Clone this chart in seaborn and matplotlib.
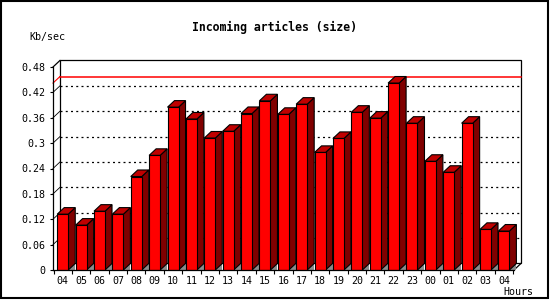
import matplotlib
matplotlib.use("Agg")
import matplotlib.pyplot as plt
from matplotlib.patches import Polygon, Rectangle
import seaborn as sns
import pandas as pd

# ---- data ----
hours = ["04", "05", "06", "07", "08", "09", "10", "11", "12", "13", "14", "15",
         "16", "17", "18", "19", "20", "21", "22", "23", "00", "01", "02", "03", "04"]
kb_per_sec = [0.132, 0.106, 0.139, 0.132, 0.221, 0.271, 0.385, 0.357, 0.312, 0.328,
              0.370, 0.400, 0.368, 0.392, 0.278, 0.311, 0.373, 0.359, 0.442, 0.347,
              0.257, 0.231, 0.347, 0.096, 0.092]
y_ticks = [0, 0.06, 0.12, 0.18, 0.24, 0.30, 0.36, 0.42, 0.48]
y_tick_labels = ["0", "0.06", "0.12", "0.18", "0.24", "0.3", "0.36", "0.42", "0.48"]
title = "Incoming articles (size)"
y_unit = "Kb/sec"
x_unit = "Hours"

df = pd.DataFrame({"slot": list(range(len(hours))), "value": kb_per_sec})

W, H = 550, 300
fig = plt.figure(figsize=(W / 100, H / 100), dpi=100)
fig.patch.set_facecolor("white")

# front plane of the 3D plot: x 53..514 px, y 67..270 px (from top)
ax = fig.add_axes([53 / W, (H - 270) / H, (514 - 53) / W, (270 - 67) / H])
ax.set_facecolor("none")

xlim = (-0.53, 24.55)
ylim = (0, 0.48)
dx = 0.38      # depth offset (category units)
dy = 0.0155    # depth offset (value units)

mono = "DejaVu Sans Mono"

# front faces via seaborn
sns.barplot(data=df, x="slot", y="value", color="#ff0000", saturation=1, width=0.6,
            edgecolor="black", linewidth=0.8, ax=ax, zorder=3)
bars = list(ax.patches)

# back plane
ax.add_patch(Rectangle((xlim[0] + dx, dy), xlim[1] - xlim[0], ylim[1] - ylim[0],
                       facecolor="white", edgecolor="black", lw=0.9, zorder=0.5,
                       clip_on=False))
# grid on back plane
for v in y_ticks[1:-1]:
    ax.plot([xlim[0] + dx, xlim[1] + dx], [v + dy, v + dy], color="black", lw=0.9,
            linestyle=(0, (1.6, 2.6)), zorder=0.6, clip_on=False)
    ax.plot([xlim[0], xlim[0] + dx], [v, v + dy], color="black", lw=0.6,
            zorder=0.6, clip_on=False)
# peak line
peak = max(kb_per_sec)
ax.plot([xlim[0] + dx, xlim[1] + dx], [peak + dy, peak + dy], color="#ff0000", lw=1.1,
        zorder=0.7, clip_on=False)
ax.plot([xlim[0], xlim[0] + dx], [peak, peak + dy], color="#ff0000", lw=0.8,
        zorder=0.7, clip_on=False)
# corner connectors
ax.plot([xlim[0], xlim[0] + dx], [ylim[1], ylim[1] + dy], color="black", lw=0.9,
        clip_on=False, zorder=0.7)
ax.plot([xlim[1], xlim[1] + dx], [0, dy], color="black", lw=0.9,
        clip_on=False, zorder=0.7)

for i, p in enumerate(bars):
    x0, w, h = p.get_x(), p.get_width(), p.get_height()
    z = 2 + i * 0.01
    # floor shadow triangle
    ax.add_patch(Polygon([(x0 + w, 0), (x0 + w + dx, 0), (x0 + w + dx, dy)],
                         closed=True, facecolor="#8c8c8c", edgecolor="none",
                         zorder=z, clip_on=False))
    # side face
    ax.add_patch(Polygon([(x0 + w, 0), (x0 + w, h), (x0 + w + dx, h + dy), (x0 + w + dx, dy)],
                         closed=True, facecolor="#800000", edgecolor="black", lw=0.8,
                         zorder=z, clip_on=False))
    # top face
    ax.add_patch(Polygon([(x0, h), (x0 + w, h), (x0 + w + dx, h + dy), (x0 + dx, h + dy)],
                         closed=True, facecolor="#c00000", edgecolor="black", lw=0.8,
                         zorder=z, clip_on=False))
    p.set_zorder(z + 0.005)

ax.set_xlim(*xlim)
ax.set_ylim(*ylim)
ax.set_xlabel("")
ax.set_ylabel("")

for s in ["top", "right"]:
    ax.spines[s].set_visible(False)
for s in ["left", "bottom"]:
    ax.spines[s].set_color("black")
    ax.spines[s].set_linewidth(0.9)
    ax.spines[s].set_zorder(5)

ax.set_yticks(y_ticks)
ax.set_yticklabels(y_tick_labels, fontfamily=mono, fontsize=7.2)
ax.tick_params(axis="y", length=2.5, width=0.8, pad=3, color="black")

ax.set_xticks(list(range(len(hours))))
ax.set_xticklabels(hours, fontfamily=mono, fontsize=7.2)
ax.tick_params(axis="x", which="major", length=0, pad=4)
ax.set_xticks([i - 0.5 for i in range(len(hours) + 1)], minor=True)
ax.tick_params(axis="x", which="minor", length=3, width=0.8, color="black")

fig.text(274 / W, 1 - 27 / H, title, ha="center", va="center",
         fontfamily=mono, fontweight="bold", fontsize=8.3)
fig.text(47.5 / W, 1 - 37 / H, y_unit, ha="center", va="center",
         fontfamily=mono, fontsize=7.2)
fig.text(533 / W, 1 - 292 / H, x_unit, ha="right", va="center",
         fontfamily=mono, fontsize=7.2)

# outer frame
fig.patches.append(Rectangle((1 / W, 2 / H), 547 / W, 297 / H, transform=fig.transFigure,
                             facecolor="none", edgecolor="black", lw=1.5))

fig.savefig("out.png", dpi=100)
